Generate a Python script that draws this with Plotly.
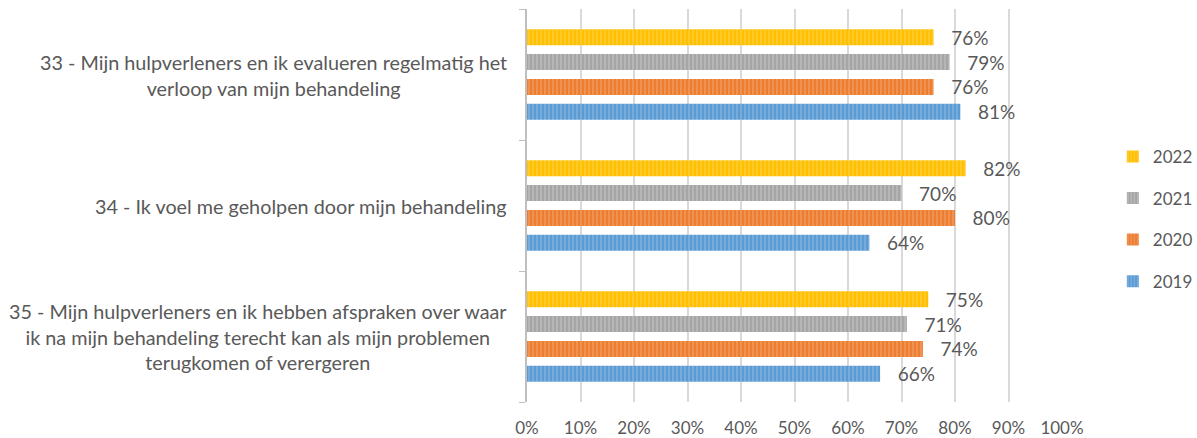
import plotly.graph_objects as go

categories = [
    "33 - Mijn hulpverleners en ik evalueren regelmatig het<br>verloop van mijn behandeling",
    "34 - Ik voel me geholpen door mijn behandeling",
    "35 - Mijn hulpverleners en ik hebben afspraken over waar<br>ik na mijn behandeling terecht kan als mijn problemen<br>terugkomen of verergeren",
]
years = ["2019", "2020", "2021", "2022"]
values_2019 = [0.81, 0.64, 0.66]
values_2020 = [0.76, 0.80, 0.74]
values_2021 = [0.79, 0.70, 0.71]
values_2022 = [0.76, 0.82, 0.75]
series = [values_2019, values_2020, values_2021, values_2022]
colors = ["#5B9BD5", "#ED7D31", "#A5A5A5", "#FFC000"]
light = ["#9DC3E6", "#F4B183", "#D0D0D0", "#FFD966"]
x_ticks = [i / 10 for i in range(11)]
x_tick_labels = [f"{i*10}%" for i in range(11)]

FONT = "Lato"
TXT = "#595959"

fig = go.Figure()
for i, (yr, vals, c, lc) in enumerate(zip(years, series, colors, light)):
    fig.add_trace(go.Bar(
        y=categories, x=vals, orientation="h", name=yr, legendgroup=yr,
        legendrank=len(years) - i,
        marker=dict(color=c, line=dict(width=0),
                    pattern=dict(shape="|", fgcolor=lc, bgcolor=c, size=4, solidity=0.4)),
        text=[f"\u00a0\u00a0\u00a0{round(v*100)}%" for v in vals],
        textposition="outside", constraintext="none",
        textfont=dict(family=FONT, size=19, color=TXT),
        cliponaxis=False,
    ))

order = categories[::-1]
for label in categories:
    fig.add_annotation(
        x=-0.034, xref="paper", y=order.index(label), yref="y", text=label,
        showarrow=False, xanchor="right", align="center",
        font=dict(family=FONT, size=19.8, color=TXT),
    )

fig.update_layout(
    width=1197, height=438,
    paper_bgcolor="white", plot_bgcolor="white",
    margin=dict(l=527, r=135, t=9, b=36, autoexpand=False),
    barmode="group", bargap=0.24, bargroupgap=0.36,
    legend=dict(
        x=1.095, xanchor="left", y=0.466, yanchor="middle",
        traceorder="grouped", font=dict(family=FONT, size=17, color=TXT),
        tracegroupgap=16.5, itemwidth=30,
    ),
    font=dict(family=FONT),
    showlegend=True,
)
fig.update_xaxes(
    range=[0, 1], tickvals=x_ticks, ticktext=x_tick_labels,
    showgrid=True, gridcolor="#D9D9D9", gridwidth=1.5,
    zeroline=False, showline=False, automargin=False,
    ticks="", ticklabelstandoff=14,
    tickfont=dict(family=FONT, size=17, color=TXT),
)
fig.update_yaxes(
    type="category", automargin=False,
    categoryorder="array", categoryarray=order,
    showticklabels=False, showline=True, linecolor="#BFBFBF", linewidth=2,
    ticks="outside", tickson="boundaries", ticklen=6, tickcolor="#BFBFBF",
    showgrid=False,
)

fig.write_html("out.html", config={"displayModeBar": False},
               post_script="document.body.style.margin='0px';")
